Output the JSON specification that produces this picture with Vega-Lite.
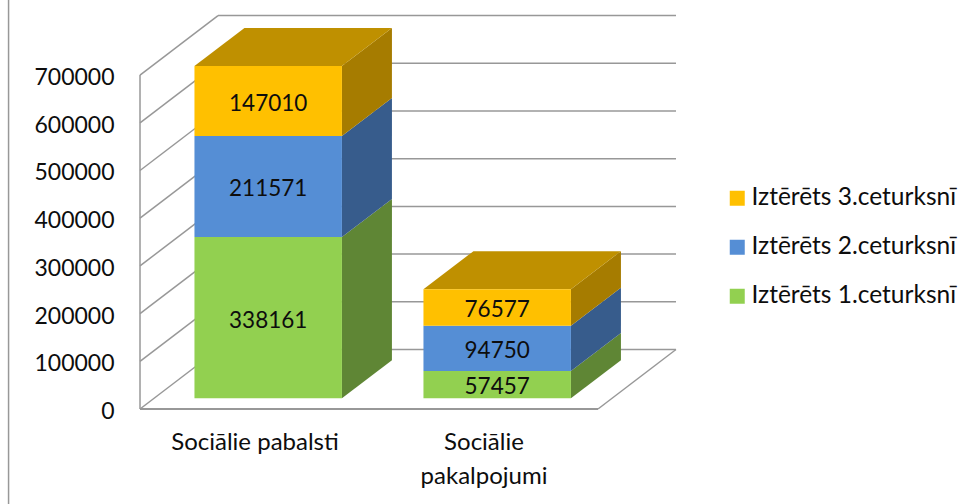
{
  "$schema": "https://vega.github.io/schema/vega-lite/v6.json",
  "width": 976,
  "height": 504,
  "padding": 0,
  "autosize": {"type": "none"},
  "background": "white",
  "config": {"view": {"stroke": null}, "font": "Lato"},
  "datasets": {
    "spend": [
      {"category": "Sociālie pabalsti", "series": "Iztērēts 1.ceturksnī", "quarter": 1, "value": 338161},
      {"category": "Sociālie pabalsti", "series": "Iztērēts 2.ceturksnī", "quarter": 2, "value": 211571},
      {"category": "Sociālie pabalsti", "series": "Iztērēts 3.ceturksnī", "quarter": 3, "value": 147010},
      {"category": "Sociālie pakalpojumi", "series": "Iztērēts 1.ceturksnī", "quarter": 1, "value": 57457},
      {"category": "Sociālie pakalpojumi", "series": "Iztērēts 2.ceturksnī", "quarter": 2, "value": 94750},
      {"category": "Sociālie pakalpojumi", "series": "Iztērēts 3.ceturksnī", "quarter": 3, "value": 76577}
    ],
    "ticks": [
      {"tick": 0}, {"tick": 100000}, {"tick": 200000}, {"tick": 300000},
      {"tick": 400000}, {"tick": 500000}, {"tick": 600000}, {"tick": 700000}
    ]
  },
  "data": {"name": "spend"},
  "transform": [
    {"stack": "value", "groupby": ["category"], "sort": [{"field": "quarter", "order": "ascending"}], "as": ["v0", "v1"]},
    {"calculate": "indexof(['Sociālie pabalsti','Sociālie pakalpojumi'],datum.category)", "as": "pos"},
    {"calculate": "datum.pos+0.5598-0.322", "as": "xL"},
    {"calculate": "datum.pos+0.5598+0.322", "as": "xR"},
    {"calculate": "datum.pos+0.5598", "as": "xC"},
    {"calculate": "datum.v0+22431", "as": "yB"},
    {"calculate": "datum.v1+22431", "as": "yT"},
    {"calculate": "(datum.yB+datum.yT)/2-6000", "as": "yM"}
  ],
  "layer": [
    {
      "data": {"name": "ticks"},
      "transform": [{"calculate": "datum.tick+124740", "as": "back"}],
      "mark": {"type": "rule", "color": "#989898", "strokeWidth": 1.5},
      "encoding": {
        "x": {
          "datum": 0,
          "type": "quantitative",
          "scale": {"domain": [-0.6114, 3.6507], "nice": false, "zero": false},
          "axis": {
            "orient": "bottom",
            "values": [0.5, 1.5],
            "labelExpr": "datum.value<1 ? 'Sociālie pabalsti' : ['Sociālie','pakalpojumi']",
            "title": null,
            "domain": false,
            "ticks": false,
            "grid": false,
            "offset": -74,
            "labelPadding": 0,
            "labelFont": "Lato",
            "labelFontSize": 24,
            "labelColor": "#0d0d0d",
            "labelOverlap": false,
            "labelBound": false,
            "labelFlush": false,
            "labelLineHeight": 34
          }
        },
        "x2": {"datum": 0.3406},
        "y": {
          "field": "tick",
          "type": "quantitative",
          "scale": {"domain": [-199160, 857400], "nice": false, "zero": false},
          "axis": {
            "values": [0, 100000, 200000, 300000, 400000, 500000, 600000, 700000],
            "format": "d",
            "title": null,
            "domain": false,
            "ticks": false,
            "grid": false,
            "offset": -114,
            "labelPadding": 0,
            "labelOffset": 2.5,
            "labelFont": "Lato",
            "labelFontSize": 23,
            "labelColor": "#0d0d0d",
            "labelOverlap": false,
            "labelBound": false,
            "labelFlush": false
          }
        },
        "y2": {"field": "back"}
      }
    },
    {
      "data": {"name": "ticks"},
      "transform": [{"calculate": "datum.tick+124740", "as": "back"}],
      "mark": {"type": "rule", "color": "#989898", "strokeWidth": 1.5},
      "encoding": {
        "x": {"datum": 0.3406, "type": "quantitative"},
        "x2": {"datum": 2.3406},
        "y": {"field": "back", "type": "quantitative"}
      }
    },
    {
      "data": {"values": [{"edge": "wall"}]},
      "mark": {"type": "rule", "color": "#989898", "strokeWidth": 1.5},
      "encoding": {
        "x": {"datum": 0, "type": "quantitative"},
        "y": {"datum": 0, "type": "quantitative"},
        "y2": {"datum": 700000}
      }
    },
    {
      "data": {"values": [{"edge": "floor"}]},
      "mark": {"type": "rule", "color": "#989898", "strokeWidth": 2},
      "encoding": {
        "x": {"datum": 0, "type": "quantitative"},
        "x2": {"datum": 2},
        "y": {"datum": 0, "type": "quantitative"}
      }
    },
    {
      "data": {"values": [{"edge": "floorSide"}]},
      "mark": {"type": "rule", "color": "#989898", "strokeWidth": 1.5},
      "encoding": {
        "x": {"datum": 2, "type": "quantitative"},
        "x2": {"datum": 2.3406},
        "y": {"datum": 0, "type": "quantitative"},
        "y2": {"datum": 124740}
      }
    },
    {
      "data": {"values": [{"edge": "border"}]},
      "mark": {"type": "rule", "color": "#989898", "strokeWidth": 1.5},
      "encoding": {
        "x": {"datum": -0.574, "type": "quantitative"},
        "y": {"datum": -199160, "type": "quantitative"},
        "y2": {"datum": 857400}
      }
    },
    {
      "transform": [
        {"calculate": "[0,1]", "as": "t"},
        {"flatten": ["t"]},
        {"calculate": "datum.xR+datum.t*0.2183", "as": "sx"},
        {"calculate": "datum.yB+datum.t*79663", "as": "sy0"},
        {"calculate": "datum.yT+datum.t*79663", "as": "sy1"}
      ],
      "mark": {"type": "area", "opacity": 1},
      "encoding": {
        "x": {"field": "sx", "type": "quantitative"},
        "y": {"field": "sy0", "type": "quantitative"},
        "y2": {"field": "sy1"},
        "detail": {"field": "category"},
        "color": {
          "field": "series",
          "type": "nominal",
          "legend": null,
          "scale": {
            "domain": ["Iztērēts 3.ceturksnī", "Iztērēts 2.ceturksnī", "Iztērēts 1.ceturksnī"],
            "range": ["#A67C00", "#375C8C", "#5F8635"]
          }
        }
      }
    },
    {
      "transform": [
        {"filter": "datum.quarter==3"},
        {"calculate": "[0,1]", "as": "t"},
        {"flatten": ["t"]},
        {"calculate": "datum.xL+datum.t*0.2183", "as": "tx0"},
        {"calculate": "datum.xR+datum.t*0.2183", "as": "tx1"},
        {"calculate": "datum.yT+datum.t*79663", "as": "ty"}
      ],
      "mark": {"type": "area", "orient": "horizontal", "color": "#BF9000"},
      "encoding": {
        "x": {"field": "tx0", "type": "quantitative"},
        "x2": {"field": "tx1"},
        "y": {"field": "ty", "type": "quantitative"},
        "detail": {"field": "category"}
      }
    },
    {
      "mark": {"type": "rect"},
      "encoding": {
        "x": {"field": "xL", "type": "quantitative"},
        "x2": {"field": "xR"},
        "y": {"field": "yB", "type": "quantitative"},
        "y2": {"field": "yT"},
        "color": {
          "field": "series",
          "type": "nominal",
          "scale": {
            "domain": ["Iztērēts 3.ceturksnī", "Iztērēts 2.ceturksnī", "Iztērēts 1.ceturksnī"],
            "range": ["#FFC000", "#558ED5", "#92D050"]
          },
          "legend": {
            "orient": "none",
            "legendX": 725,
            "legendY": 186,
            "title": null,
            "symbolType": "square",
            "symbolSize": 225,
            "symbolStrokeWidth": 0,
            "labelFont": "Lato",
            "labelFontSize": 24.5,
            "labelColor": "#0d0d0d",
            "labelOffset": 2,
            "labelLimit": 260,
            "rowPadding": 24
          }
        }
      }
    },
    {
      "mark": {"type": "text", "font": "Lato", "fontSize": 22.5, "color": "#0d0d0d", "baseline": "middle", "align": "center"},
      "encoding": {
        "x": {"field": "xC", "type": "quantitative"},
        "y": {"field": "yM", "type": "quantitative"},
        "text": {"field": "value", "type": "nominal"}
      }
    }
  ],
  "resolve": {"scale": {"color": "independent"}}
}
